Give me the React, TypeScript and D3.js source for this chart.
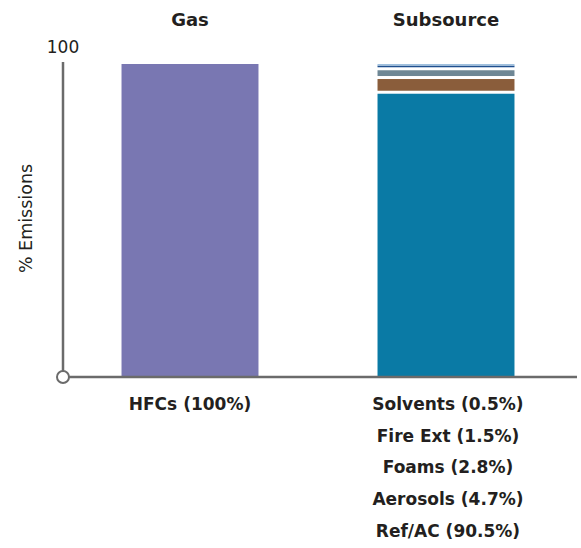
import { useEffect, useRef } from 'react';
import * as d3 from 'd3';

// columns and the stack in the right-hand column
const columns = ['Gas', 'Subsource'];
const gasLabels = ['HFCs (100%)'];
const gasValues = [100];
const subsources = ['Ref/AC', 'Aerosols', 'Foams', 'Fire Ext', 'Solvents'];
const subValues = [90.5, 4.7, 2.8, 1.5, 0.5];
const subColors = ['#0a7aa5', '#8a5d3b', '#6e8795', '#1f4f8e', '#9fc0de'];
const yTicks = [100];

const width = 581;
const height = 548;

const App: React.FC = () => {
  const svgRef = useRef<SVGSVGElement | null>(null);

  useEffect(() => {
    const svg = d3.select(svgRef.current);
    svg.selectAll('*').remove();

    const font = '"DejaVu Sans", "Open Sans", sans-serif';
    const textColor = '#231f20';
    const axisColor = '#6b6b6b';

    const x = d3.scaleBand<string>()
      .domain(columns)
      .range([62, 574])
      .paddingInner(0.465)
      .paddingOuter(0.2325);

    const y = d3.scaleLinear().domain([0, 100]).range([377, 64]);

    // column headers
    svg.selectAll('.head')
      .data(columns)
      .enter().append('text')
      .attr('class', 'head')
      .attr('x', (d) => (x(d) ?? 0) + x.bandwidth() / 2)
      .attr('y', 26)
      .attr('text-anchor', 'middle')
      .style('font-family', font)
      .style('font-weight', 700)
      .style('font-size', '18px')
      .attr('fill', textColor)
      .text((d) => d);

    // gas bar
    svg.selectAll('.gas')
      .data(gasValues)
      .enter().append('rect')
      .attr('class', 'gas')
      .attr('x', x('Gas') ?? 0)
      .attr('width', x.bandwidth())
      .attr('y', (d) => y(d))
      .attr('height', (d) => y(0) - y(d))
      .attr('fill', '#7977b2');

    // subsource stack, small white gap under each segment
    const stack: { name: string; y0: number; y1: number; color: string }[] = [];
    let acc = 0;
    subValues.forEach((v, i) => {
      stack.push({ name: subsources[i], y0: acc, y1: acc + v, color: subColors[i] });
      acc += v;
    });

    svg.selectAll('.seg')
      .data(stack)
      .enter().append('rect')
      .attr('class', 'seg')
      .attr('x', x('Subsource') ?? 0)
      .attr('width', x.bandwidth())
      .attr('y', (d) => y(d.y1))
      .attr('height', (d) => {
        const h = y(d.y0) - y(d.y1);
        const gap = d.y0 === 0 ? 0 : h > 3 ? 3 : 0;
        return Math.max(h - gap, 1);
      })
      .attr('fill', (d) => d.color);

    // axes
    svg.append('line')
      .attr('x1', 63).attr('x2', 63)
      .attr('y1', y(100) - 2).attr('y2', y(0))
      .attr('stroke', axisColor)
      .attr('stroke-width', 2.5);

    svg.append('line')
      .attr('x1', 63).attr('x2', 577)
      .attr('y1', y(0)).attr('y2', y(0))
      .attr('stroke', axisColor)
      .attr('stroke-width', 2.5);

    svg.append('circle')
      .attr('cx', 63)
      .attr('cy', y(0))
      .attr('r', 6)
      .attr('fill', '#fff')
      .attr('stroke', axisColor)
      .attr('stroke-width', 2);

    svg.selectAll('.tick')
      .data(yTicks)
      .enter().append('text')
      .attr('class', 'tick')
      .attr('x', 63)
      .attr('y', (d) => y(d) - 11)
      .attr('text-anchor', 'middle')
      .style('font-family', font)
      .style('font-size', '17px')
      .attr('fill', textColor)
      .text((d) => d);

    svg.append('text')
      .attr('transform', `translate(32, ${(y(0) + y(100)) / 2 - 2}) rotate(-90)`)
      .attr('text-anchor', 'middle')
      .style('font-family', font)
      .style('font-size', '17.5px')
      .attr('fill', textColor)
      .text('% Emissions');

    // bottom labels
    const labelStyle = (sel: d3.Selection<SVGTextElement, string, SVGSVGElement | null, unknown>) =>
      sel
        .attr('text-anchor', 'middle')
        .style('font-family', font)
        .style('font-weight', 700)
        .style('font-size', '17px')
        .attr('fill', textColor);

    svg.selectAll<SVGTextElement, string>('.glabel')
      .data(gasLabels)
      .enter().append('text')
      .attr('class', 'glabel')
      .attr('x', (x('Gas') ?? 0) + x.bandwidth() / 2)
      .attr('y', 410)
      .text((d) => d)
      .call(labelStyle);

    const subLabels = subsources
      .map((s, i) => `${s} (${subValues[i]}%)`)
      .reverse();

    svg.selectAll<SVGTextElement, string>('.slabel')
      .data(subLabels)
      .enter().append('text')
      .attr('class', 'slabel')
      .attr('x', (x('Subsource') ?? 0) + x.bandwidth() / 2 + 2)
      .attr('y', (_, i) => 410 + i * 31.7)
      .text((d) => d)
      .call(labelStyle);
  }, []);

  return (
    <svg
      ref={svgRef}
      width={width}
      height={height}
      style={{ position: 'absolute', left: 0, top: 0, background: '#fff' }}
    ></svg>
  );
};

export default App;
